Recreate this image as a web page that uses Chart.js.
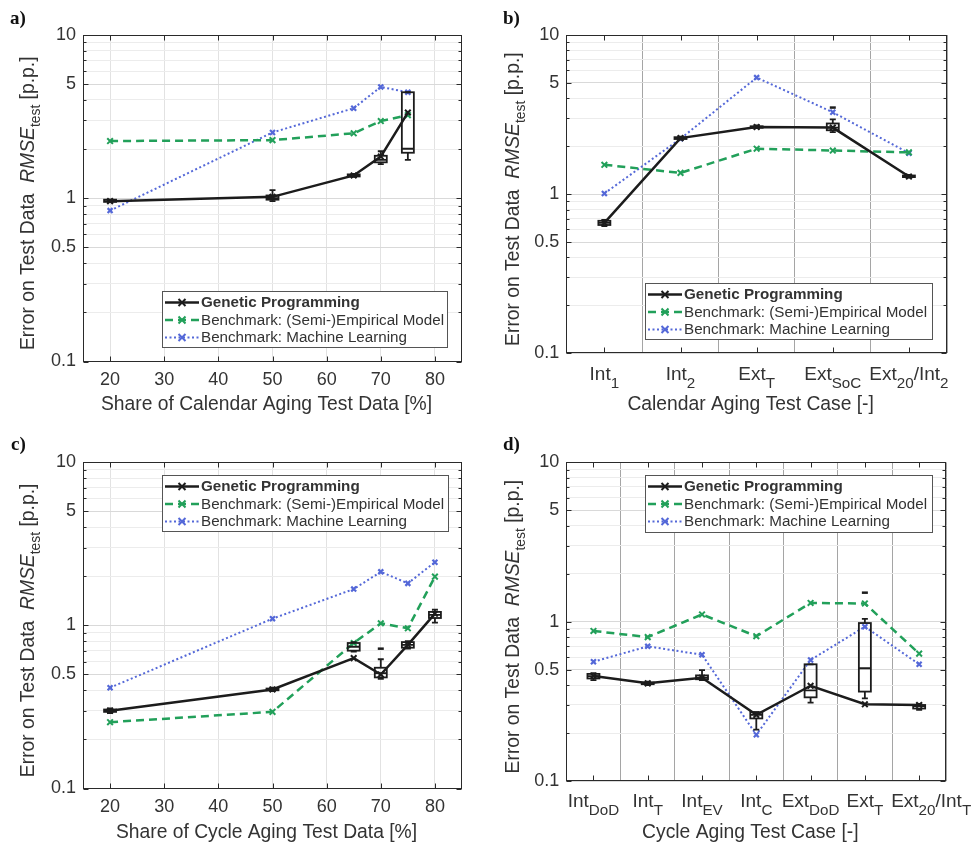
<!DOCTYPE html>
<html><head><meta charset="utf-8">
<script src="https://cdn.jsdelivr.net/npm/chart.js@4.4.1/dist/chart.umd.min.js"></script>
<style>
html,body{margin:0;padding:0;background:#fff}
body{width:974px;height:846px;position:relative;overflow:hidden}
canvas{position:absolute}
.pl{position:absolute;z-index:3;font:bold 19px "Liberation Serif","Times New Roman",serif;color:#111;line-height:1}
</style></head><body>
<div class="pl" style="left:10px;top:8px">a)</div>
<div class="pl" style="left:503px;top:8px">b)</div>
<div class="pl" style="left:11px;top:434px">c)</div>
<div class="pl" style="left:503px;top:434px">d)</div>
<canvas id="ca" width="487" height="420" style="left:0;top:0"></canvas>
<canvas id="cb" width="487" height="420" style="left:487px;top:0"></canvas>
<canvas id="cc" width="487" height="426" style="left:0;top:420px"></canvas>
<canvas id="cd" width="487" height="426" style="left:487px;top:420px"></canvas>
<script>
// ---------------- data ----------------
const seriesNames = ['Genetic Programming', 'Benchmark: (Semi-)Empirical Model', 'Benchmark: Machine Learning'];
const yTickValues = [0.1,0.2,0.3,0.4,0.5,0.6,0.7,0.8,0.9,1,2,3,4,5,6,7,8,9,10];
const yTickLabels = [0.1,0.5,1,5,10];
const shareTicks = [20,30,40,50,60,70,80];

// a) calendar aging, share of test data
const shareA = [20, 50, 65, 70, 75];
const gpA = [0.96, 1.02, 1.38, 1.80, 3.35];
const seA = [2.24, 2.27, 2.50, 2.97, 3.23];
const mlA = [0.84, 2.53, 3.56, 4.81, 4.46];
// box: [x, low whisker, q1, median, q3, high whisker, outlier]
const boxA = [[20,0.95,0.95,0.96,0.98,0.98],[50,0.96,0.98,1.0,1.04,1.12],[65,1.35,1.36,1.38,1.40,1.41],[70,1.62,1.66,1.72,1.82,1.94],[75,1.72,1.90,2.01,4.46,4.46]];

// b) calendar aging test cases
const casesB = ['Int_{1}','Int_{2}','Ext_{T}','Ext_{SoC}','Ext_{20}/Int_{2}'];
const gpB = [0.66, 2.25, 2.64, 2.62, 1.29];
const seB = [1.53, 1.36, 1.93, 1.88, 1.83];
const mlB = [1.01, 2.23, 5.40, 3.27, 1.81];
const boxB = [[0,0.63,0.64,0.66,0.68,0.69],[1,2.2,2.22,2.25,2.28,2.3],[2,2.6,2.62,2.64,2.67,2.7],[3,2.45,2.52,2.62,2.78,2.95,3.5],[4,1.27,1.28,1.29,1.31,1.32]];

// c) cycle aging, share of test data
const shareC = [20, 50, 65, 70, 75, 80];
const gpC = [0.30, 0.405, 0.63, 0.50, 0.76, 1.18];
const seC = [0.255, 0.295, 0.78, 1.03, 0.96, 1.99];
const mlC = [0.415, 1.10, 1.67, 2.13, 1.81, 2.44];
const boxC = [[20,0.29,0.295,0.30,0.305,0.31],[50,0.395,0.40,0.405,0.41,0.415],[65,0.69,0.70,0.74,0.78,0.79],[70,0.47,0.48,0.51,0.55,0.62,0.72],[75,0.72,0.73,0.76,0.79,0.80],[80,1.04,1.11,1.16,1.21,1.25]];

// d) cycle aging test cases
const casesD = ['Int_{DoD}','Int_{T}','Int_{EV}','Int_{C}','Ext_{DoD}','Ext_{T}','Ext_{20}/Int_{T}'];
const gpD = [0.456, 0.41, 0.445, 0.26, 0.396, 0.303, 0.30];
const seD = [0.874, 0.80, 1.11, 0.81, 1.31, 1.30, 0.63];
const mlD = [0.56, 0.70, 0.62, 0.195, 0.575, 0.93, 0.54];
const boxD = [[0,0.43,0.44,0.455,0.47,0.475],[1,0.40,0.405,0.41,0.415,0.42],[2,0.43,0.435,0.445,0.46,0.497],[3,0.21,0.247,0.26,0.27,0.27],[4,0.31,0.335,0.37,0.54,0.54],[5,0.33,0.364,0.51,0.98,1.04,1.52],[6,0.28,0.285,0.295,0.30,0.305]];

// ---------------- styling ----------------
const FONT = '"Liberation Sans", Arial, Helvetica, sans-serif';
const TXT = '#333333';
const C_GP = '#1c1c1c', C_SE = '#22a05a', C_ML = '#5468d8';
const TITLE_SIZE = 19.3;

function segs(s){const out=[];const re=/_\{([^}]*)\}/g;let last=0,m;while((m=re.exec(s))){if(m.index>last)out.push([s.slice(last,m.index),'n']);out.push([m[1],'s']);last=re.lastIndex;}if(last<s.length)out.push([s.slice(last),'n']);return out;}
function fontFor(style,size,subScale){
  if(style==='i') return 'italic '+size+'px '+FONT;
  if(style==='s') return (size*subScale).toFixed(1)+'px '+FONT;
  return size+'px '+FONT;
}
function drawRich(ctx, parts, x, y, size, subScale, subDy){
  let w=0; parts.forEach(p=>{ctx.font=fontFor(p[1],size,subScale); w+=ctx.measureText(p[0]).width;});
  let cx = x-w/2;
  ctx.textBaseline='alphabetic'; ctx.textAlign='left';
  parts.forEach(p=>{ctx.font=fontFor(p[1],size,subScale); ctx.fillText(p[0], cx, y + (p[1]==='s'? subDy:0)); cx+=ctx.measureText(p[0]).width;});
}
function cross(ctx,x,y,r){ctx.beginPath();ctx.moveTo(x-r,y-r);ctx.lineTo(x+r,y+r);ctx.moveTo(x+r,y-r);ctx.lineTo(x-r,y+r);ctx.stroke();}

function decor(cfg){
  return {
    id:'decor',
    afterDatasetsDraw(chart){
      const ctx=chart.ctx, xs=chart.scales.x, ys=chart.scales.y;
      ctx.save(); ctx.strokeStyle=C_GP; ctx.lineWidth=1.8; ctx.setLineDash([]);
      cfg.boxes.forEach(b=>{
        const px=xs.getPixelForValue(b[0]); const w=6;
        const yl=ys.getPixelForValue(b[1]), y1=ys.getPixelForValue(b[2]), ym=ys.getPixelForValue(b[3]), y3=ys.getPixelForValue(b[4]), yh=ys.getPixelForValue(b[5]);
        ctx.strokeRect(px-w, y3, 2*w, Math.max(1.5,y1-y3));
        ctx.beginPath(); ctx.moveTo(px-w,ym); ctx.lineTo(px+w,ym);
        ctx.moveTo(px,y3); ctx.lineTo(px,yh); ctx.moveTo(px,y1); ctx.lineTo(px,yl);
        ctx.moveTo(px-3,yh); ctx.lineTo(px+3,yh); ctx.moveTo(px-3,yl); ctx.lineTo(px+3,yl);
        ctx.stroke();
        if(b.length>6){const yo=ys.getPixelForValue(b[6]); ctx.lineWidth=2.5; ctx.beginPath(); ctx.moveTo(px-3,yo); ctx.lineTo(px+3,yo); ctx.stroke(); ctx.lineWidth=1.8;}
      });
      ctx.restore();
    },
    afterDraw(chart){
      const ctx=chart.ctx, a=chart.chartArea, xs=chart.scales.x, ys=chart.scales.y;
      ctx.save();
      // frame and inward tick marks
      ctx.strokeStyle='#2a2a2a'; ctx.lineWidth=1; ctx.setLineDash([]);
      const L=Math.round(a.left)+0.5, T=Math.round(a.top)+0.5, R=Math.round(a.right)-0.5, B=Math.round(a.bottom)-0.5;
      ctx.strokeRect(L,T,R-L,B-T);
      ctx.beginPath();
      yTickValues.forEach(v=>{const y=Math.round(ys.getPixelForValue(v))+0.5; const len=yTickLabels.includes(v)?5:3; ctx.moveTo(L,y);ctx.lineTo(L+len,y);ctx.moveTo(R,y);ctx.lineTo(R-len,y);});
      const xt = cfg.cats ? cfg.cats.map((c,i)=>i) : shareTicks;
      xt.forEach(v=>{const x=Math.round(xs.getPixelForValue(v))+0.5; ctx.moveTo(x,B);ctx.lineTo(x,B-5);ctx.moveTo(x,T);ctx.lineTo(x,T+5);});
      ctx.stroke();
      ctx.fillStyle=TXT;
      // rich category tick labels
      if(cfg.cats){ cfg.cats.forEach((c,i)=>{
        const sh = (cfg.labelShift && cfg.labelShift[i]) || 0;
        drawRich(ctx, segs(c), xs.getPixelForValue(i)+sh, a.bottom+cfg.catBase, 19, 0.8, 7.5); }); }
      // x title
      ctx.font=TITLE_SIZE+'px '+FONT; ctx.textAlign='center'; ctx.textBaseline='alphabetic';
      ctx.fillText(cfg.xTitle, (a.left+a.right)/2-6, a.bottom+cfg.titleBase);
      // y title
      ctx.save(); ctx.translate(cfg.yTitleX, (a.top+a.bottom)/2+5); ctx.rotate(-Math.PI/2);
      const yt=[['Error on Test Data  ','n'],['RMSE','i'],['test','s'],[' [p.p.]','n']];
      drawRich(ctx, yt, 0, 0, TITLE_SIZE, 0.72, 5.5);
      ctx.restore();
      // legend
      const [lL,lT,lR,lB]=cfg.legend;
      ctx.fillStyle='#fff'; ctx.fillRect(lL,lT,lR-lL,lB-lT);
      ctx.strokeStyle='#555'; ctx.lineWidth=1; ctx.strokeRect(lL+0.5,lT+0.5,lR-lL-1,lB-lT-1);
      chart.data.datasets.forEach((ds,i)=>{
        const cy=lT+11.5+i*17.5;
        ctx.strokeStyle=ds.borderColor; ctx.lineWidth=ds.borderWidth; ctx.setLineDash(ds.borderDash||[]);
        ctx.beginPath(); ctx.moveTo(lL+3,cy); ctx.lineTo(lL+37,cy); ctx.stroke();
        ctx.setLineDash([]); ctx.lineWidth=2; cross(ctx,lL+20,cy,3.5);
        ctx.fillStyle=TXT; ctx.font=(i===0?'bold ':'')+'15.2px '+FONT; ctx.textBaseline='middle'; ctx.textAlign='left';
        ctx.fillText(ds.label, lL+39, cy+0.5);
      });
      ctx.restore();
    }
  };
}

function makeChart(id, cfg){
  const isCat = !!cfg.cats;
  const mk = (arr)=> isCat ? arr : arr.map((v,i)=>({x:cfg.xs[i], y:v}));
  const datasets = [
    {label:seriesNames[0], data:mk(cfg.gp), borderColor:C_GP, borderWidth:2.5, pointStyle:'crossRot', pointRadius:4, pointBorderWidth:2, pointBorderColor:C_GP, pointBackgroundColor:C_GP, order:1},
    {label:seriesNames[1], data:mk(cfg.se), borderColor:C_SE, borderWidth:2.5, borderDash:[8,5], pointStyle:'crossRot', pointRadius:4, pointBorderWidth:2, pointBorderColor:C_SE, pointBackgroundColor:C_SE, order:2},
    {label:seriesNames[2], data:mk(cfg.ml), borderColor:C_ML, borderWidth:2, borderDash:[2,2.5], pointStyle:'crossRot', pointRadius:3.5, pointBorderWidth:2.2, pointBorderColor:C_ML, pointBackgroundColor:C_ML, order:3}
  ];
  datasets.forEach(d=>{d.fill=false; d.tension=0; d.spanGaps=true;});
  const tickFont = {family:FONT, size:18};
  const xScale = isCat ? {
      type:'category', offset:true,
      grid:{offset:true, color:'#a5a5a5', lineWidth:1, drawTicks:false},
      border:{display:false},
      ticks:{display:false},
      title:{display:false},
      afterFit:(s)=>{s.height=cfg.xH;}
    } : {
      type:'linear', min:15, max:85,
      afterBuildTicks:(s)=>{s.ticks=shareTicks.map(v=>({value:v}));},
      grid:{color:'#e2e2e2', lineWidth:1, drawTicks:false},
      border:{display:false},
      ticks:{font:tickFont, color:TXT, padding:8, autoSkip:false, maxRotation:0, callback:(v)=>String(v)},
      title:{display:false},
      afterFit:(s)=>{s.height=cfg.xH;}
    };
  return new Chart(document.getElementById(id), {
    type:'line',
    data: isCat ? {labels:cfg.cats, datasets} : {datasets},
    options:{
      responsive:false, animation:false, devicePixelRatio:1,
      layout:{padding:{top:cfg.top, right:cfg.right, left:0, bottom:0}},
      plugins:{legend:{display:false}, tooltip:{enabled:false}},
      scales:{
        x:xScale,
        y:{type:'logarithmic', min:0.1, max:10,
          afterBuildTicks:(s)=>{s.ticks=yTickValues.map(v=>({value:v}));},
          grid:{drawTicks:false, lineWidth:1, color:(c)=> (c.tick && yTickLabels.includes(c.tick.value)) ? '#d9d9d9' : '#ececec'},
          border:{display:false},
          ticks:{font:tickFont, color:TXT, padding:7, autoSkip:false, callback:(v)=> yTickLabels.includes(v) ? String(v) : ''},
          afterFit:(s)=>{s.width=cfg.yW;}
        }
      }
    },
    plugins:[decor(cfg)]
  });
}

makeChart('ca',{xs:shareA, gp:gpA, se:seA, ml:mlA, boxes:boxA, xTitle:'Share of Calendar Aging Test Data [%]', top:35, right:25, yW:83, xH:58.5, titleBase:48.5, yTitleX:34, legend:[162,291,448,348]});
makeChart('cb',{cats:casesB, gp:gpB, se:seB, ml:mlB, boxes:boxB, xTitle:'Calendar Aging Test Case [-]', top:35, right:27, yW:79.3, xH:66.7, titleBase:56.7, catBase:27, yTitleX:32, legend:[158,283,446,340]});
makeChart('cc',{xs:shareC, gp:gpC, se:seC, ml:mlC, boxes:boxC, xTitle:'Share of Cycle Aging Test Data [%]', top:42.3, right:25, yW:83, xH:57.5, titleBase:49.5, yTitleX:34, legend:[162,55,449,112]});
makeChart('cd',{cats:casesD, gp:gpD, se:seD, ml:mlD, boxes:boxD, xTitle:'Cycle Aging Test Case [-]', top:42.3, right:27.7, yW:79.3, xH:65, titleBase:57, catBase:26, yTitleX:32, legend:[158,55,446,113], labelShift:[0,0,0,0,0,0,12]});
</script></body></html>
